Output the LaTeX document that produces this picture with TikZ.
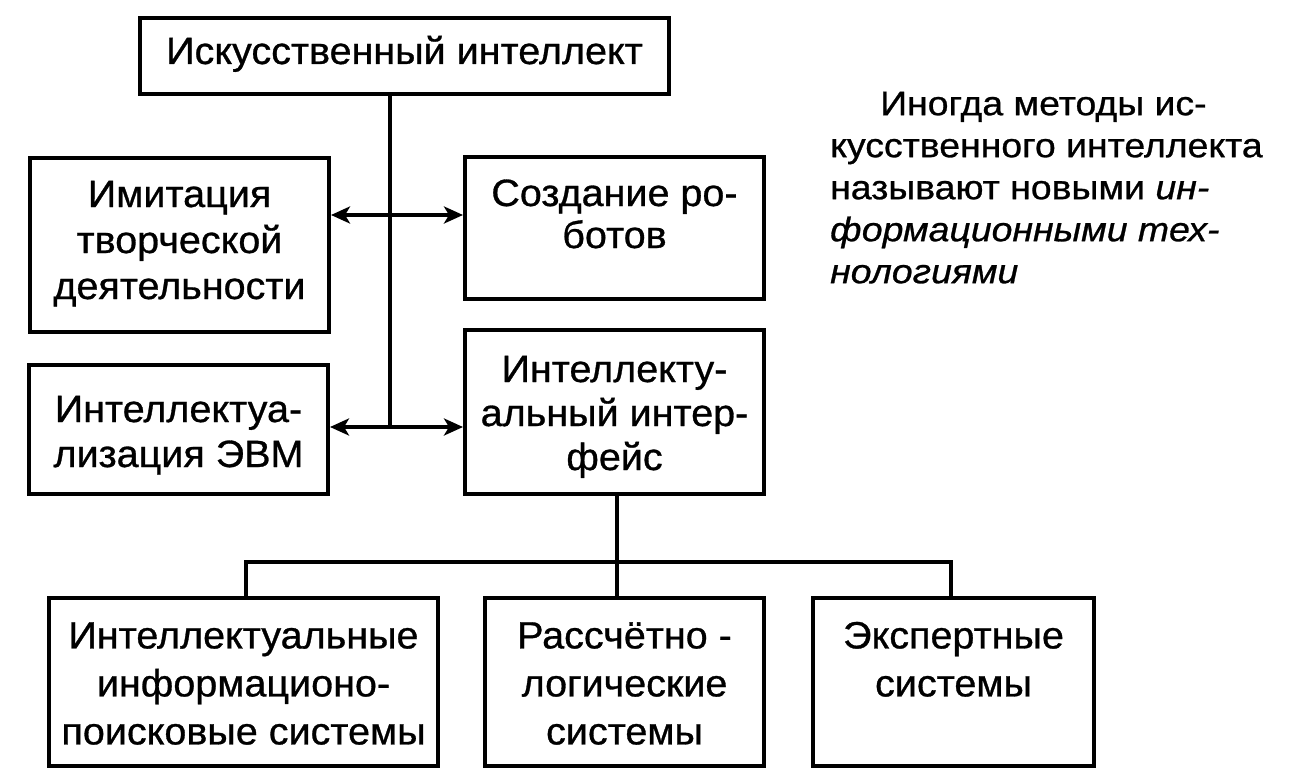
\documentclass[tikz,border=0pt]{standalone}
\usepackage{fontspec}
\setmainfont{Liberation Sans}[FakeStretch=1.04,FakeBold=0.8]
\newfontfamily\parafont{Liberation Sans}[FakeStretch=1.10,FakeBold=0.8]
\usetikzlibrary{arrows.meta}
\newcommand\bx[4]{\parbox[c][#2][t]{#1}{\centering\vspace*{#3}\strut #4\par}}
\tikzset{
  box/.style={draw, line width=4pt, inner sep=0pt, anchor=north west,
              font=\fontsize{38}{46}\selectfont},
  conn/.style={line width=3.5pt},
  biarrow/.style={conn, {Stealth[length=19pt,width=17pt,inset=5pt]}-{Stealth[length=19pt,width=17pt,inset=5pt]}},
  para/.style={inner sep=0pt, anchor=north west, font=\parafont\fontsize{34}{42}\selectfont}
}
\begin{document}
\begin{tikzpicture}[x=1pt,y=-1pt]
\useasboundingbox (0,0) rectangle (1305,778);
% boxes
\node[box] (top) at (138,16) {\bx{529pt}{76pt}{13.8pt}{Искусственный интеллект}};
\node[box] (imit) at (28,156) {\bx{299pt}{174pt}{16.8pt}{Имитация\\ творческой\\ деятельности}};
\node[box] (robot) at (463,155) {\bx{299pt}{142pt}{16.8pt}{Создание ро-\\[-4pt] ботов}};
\node[box] (evm) at (27,363) {\bx{299pt}{129pt}{24.8pt}{Интеллектуа-\\[-1pt] лизация ЭВМ}};
\node[box] (intf) at (463,328) {\bx{299pt}{164pt}{19.8pt}{Интеллекту-\\[-2pt] альный интер-\\[-2pt] фейс}};
\node[box, font=\fontsize{38}{48}\selectfont] (b1) at (47,596) {\bx{389pt}{168pt}{16.8pt}{Интеллектуальные\\ информационо-\\ поисковые системы}};
\node[box, font=\fontsize{38}{48}\selectfont] (b2) at (483,596) {\bx{279pt}{168pt}{16.8pt}{Рассчётно -\\ логические\\ системы}};
\node[box, font=\fontsize{38}{48}\selectfont] (b3) at (811,596) {\bx{281pt}{168pt}{16.8pt}{Экспертные\\ системы}};
% paragraph
\node[para] (note) at (830,60) {\parbox[c][260pt][t]{470pt}{\raggedright\vspace*{25.6pt}\strut\hspace*{50pt}Иногда методы ис-\\
кусственного интеллекта\\
называют новыми \textit{ин-}\\
\textit{формационными тех-}\\
\textit{нологиями}\par}};
% connectors
\coordinate (a1) at (390,215);
\coordinate (a2) at (390,427);
\coordinate (bar) at (617,562);
\coordinate (t1) at (246,562);
\coordinate (t3) at (951,562);
\draw[conn] (top.south -| a1) -- (a2);
\draw[biarrow] (imit.east |- a1) -- (robot.west |- a1);
\draw[biarrow] (evm.east |- a2) -- (intf.west |- a2);
\draw[conn] (intf.south -| bar) -- (b2.north -| bar);
\draw[conn] (b1.north -| t1) -- (t1) -- (t3) -- (b3.north -| t3);
\end{tikzpicture}
\end{document}
